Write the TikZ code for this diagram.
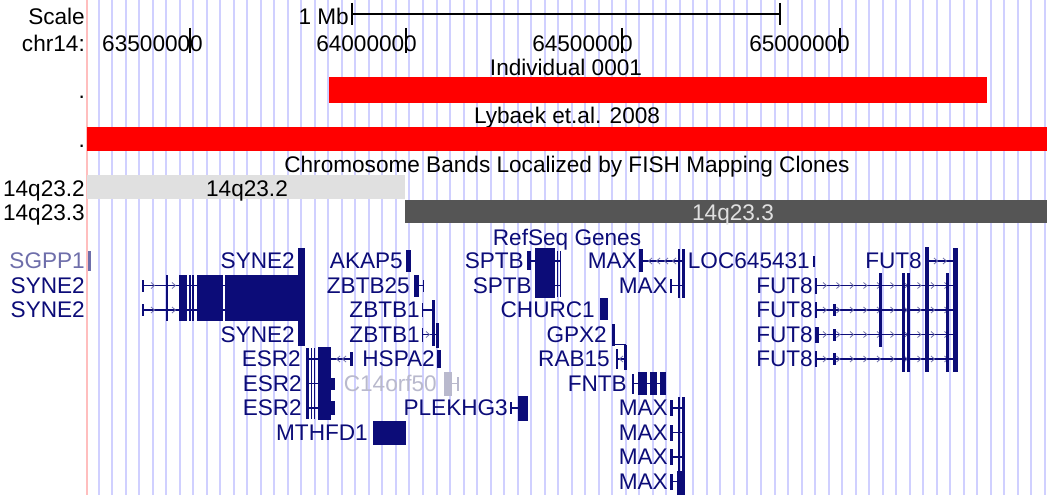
\documentclass[tikz,border=0pt]{standalone}
\usepackage{fontspec}
\setmainfont{Liberation Sans}
\definecolor{gnavy}{RGB}{12,12,120}
\definecolor{gridc}{RGB}{208,208,255}
\definecolor{sgpp}{RGB}{110,110,170}
\definecolor{cgray}{RGB}{185,185,205}
\definecolor{bandA}{RGB}{224,224,224}
\definecolor{bandB}{RGB}{85,85,85}
\definecolor{pinkl}{RGB}{255,190,190}
\definecolor{chevc}{RGB}{110,110,170}
\newcommand\yA{261}
\newcommand\yB{285.5}
\newcommand\yC{310}
\newcommand\yD{334.5}
\newcommand\yE{359}
\newcommand\yF{383.5}
\newcommand\yG{408}
\newcommand\yH{432.5}
\newcommand\yI{457}
\newcommand\yJ{481.5}
\newcommand{\chR}[2]{\draw[chev] (#1-2,#2-3) -- (#1+1.5,#2) -- (#1-2,#2+3);}
\newcommand{\chL}[2]{\draw[chev] (#1+2,#2-3) -- (#1-1.5,#2) -- (#1+2,#2+3);}
\begin{document}
\begin{tikzpicture}[x=1pt,y=-1pt,
  lab/.style={inner sep=0pt,font=\fontsize{22.6pt}{26pt}\selectfont},
  glab/.style={lab,text=gnavy,anchor=base east},
  intr/.style={draw=gnavy,line width=1.3pt},
  chev/.style={draw=chevc,line width=0.8pt},
  ex/.style={fill=gnavy}]
\useasboundingbox (0,0) rectangle (1050,495);
\fill[white] (0,0) rectangle (1050,495);
% guide lines
\foreach \k in {0,...,70}
  \draw[gridc,line width=2pt] ({98.5+13.52*\k},0) -- ({98.5+13.52*\k},495);
\draw[pinkl,line width=1.5pt] (87,0) -- (87,495);
% ruler
\node[lab,anchor=base east] (scl) at (85,25) {Scale};
\node[lab,anchor=base east] (mb) at (349,25) {1 Mb};
\coordinate (rl) at (352,14);
\coordinate (rr) at (780,14);
\draw[line width=1.2pt] (rl) -- (rr);
\draw[line width=1.2pt] (352,3) -- (352,25);
\draw[line width=1.2pt] (780,3) -- (780,25);
\node[lab,anchor=base east] (chr) at (85,52) {chr14:};
\node[lab,anchor=base east] (p1) at (203,52) {63500000};
\node[lab,anchor=base east] (p2) at (417,52) {64000000};
\node[lab,anchor=base east] (p3) at (633,52) {64500000};
\node[lab,anchor=base east] (p4) at (850,52) {65000000};
\foreach \t in {190,406,622,840}
  \draw[line width=1.5pt] (\t,28) -- (\t,53);
% custom tracks
\node[lab,anchor=base] (ind) at (566,75) {Individual 0001};
\fill[red] (329,77) rectangle (987,103);
\node[lab,anchor=base east] (d1) at (85,99) {.};
\node[lab,anchor=base] (lyb) at (567,124) {Lybaek et.al. 2008};
\fill[red] (87,127) rectangle (1047,151);
\node[lab,anchor=base east] (d2) at (85,147) {.};
% bands
\node[lab,anchor=base] (fish) at (567,172) {Chromosome Bands Localized by FISH Mapping Clones};
\fill[bandA] (87,175) rectangle (405,199);
\fill[bandB] (405,200) rectangle (1047,223);
\node[lab,anchor=base] (b1) at (247,196) {14q23.2};
\node[lab,anchor=base,text=bandA] (b2) at (733,220) {14q23.3};
\node[lab,anchor=base east] (l1) at (85,196) {14q23.2};
\node[lab,anchor=base east] (l2) at (85,220) {14q23.3};
% RefSeq
\node[lab,anchor=base,text=gnavy] (rs) at (567,245) {RefSeq Genes};
% left labels
\node[glab,text=sgpp] (sg) at (85,\yA+7.5) {SGPP1};
\fill[sgpp] (88,251) rectangle (90.5,271);
\node[glab] (sy2) at (85,\yB+7.5) {SYNE2};
\node[glab] (sy3) at (85,\yC+7.5) {SYNE2};
% SYNE2
\node[glab] (sy1) at (295,\yA+7.5) {SYNE2};
\node[glab] (sy4) at (295,\yD+7.5) {SYNE2};
\fill[gnavy] (298,248) rectangle (305,346);
\draw[intr] (142,\yB) -- (298,\yB);
\draw[intr] (142,\yC) -- (298,\yC);
\fill[gnavy] (141.5,\yB-6) rectangle (144,\yB+6);
\fill[gnavy] (141.5,\yC-6) rectangle (144,\yC+6);
\chR{153}{\yB}
\chR{174}{\yB}
\chR{153}{\yC}
\chR{174}{\yC}
\fill[gnavy] (166,\yB-11) rectangle (168,\yC+11);
\fill[gnavy] (179,\yB-11) rectangle (187,\yC+11);
\fill[gnavy] (189,\yB-11) rectangle (190.5,\yC+11);
\fill[gnavy] (192,\yB-11) rectangle (194,\yC+11);
\fill[gnavy] (197,\yB-11) rectangle (223,\yC+11);
\fill[gnavy] (224.5,\yB-11) rectangle (305,\yC+11);
% ESR2
\node[glab] (es1) at (301,\yE+7.5) {ESR2};
\node[glab] (es2) at (302,\yF+7.5) {ESR2};
\node[glab] (es3) at (302,\yG+7.5) {ESR2};
\fill[gnavy] (306,\yE-11) rectangle (309,\yG+11);
\draw[intr] (309,\yE) -- (318,\yE);
\draw[intr] (309,\yF) -- (318,\yF);
\draw[intr] (309,\yG) -- (318,\yG);
\fill[gnavy] (311,\yE-11) rectangle (312.2,\yG+11);
\fill[gnavy] (314,\yE-11) rectangle (315.2,\yG+11);
\fill[gnavy] (318,\yE-12) rectangle (331,\yG+12);
\fill[gnavy] (331,\yF-6) rectangle (335,\yF+6);
\fill[gnavy] (331,\yG-7) rectangle (335,\yG+7);
\draw[intr] (331,\yE) -- (351,\yE);
\chL{338}{\yE}
\chL{344}{\yE}
\fill[gnavy] (350,\yE-7) rectangle (353,\yE+7);
% MTHFD1
\node[glab] (mt) at (368,\yH+7.5) {MTHFD1};
\fill[gnavy] (373,\yH-12) rectangle (406,\yH+12);
% AKAP5
\node[glab] (ak) at (403,\yA+7.5) {AKAP5};
\fill[gnavy] (406,\yA-11) rectangle (410.5,\yA+11);
% ZBTB25
\node[glab] (zb25) at (410,\yB+7.5) {ZBTB25};
\fill[gnavy] (414,\yB-11) rectangle (419,\yB+11);
\draw[intr] (419,\yB) -- (424,\yB);
\fill[gnavy] (422.5,\yB-6) rectangle (424,\yB+6);
% ZBTB1
\node[glab] (zb1) at (420,\yC+7.5) {ZBTB1};
\node[glab] (zb2) at (420,\yD+7.5) {ZBTB1};
\fill[gnavy] (421.5,\yC-7) rectangle (423,\yC+7);
\draw[intr] (423,\yC) -- (433,\yC);
\fill[gnavy] (432,\yC-10) rectangle (434.5,\yD+11);
\fill[gnavy] (421.5,\yD-7) rectangle (423,\yD+7);
\draw[intr] (423,\yD) -- (437,\yD);
\chR{428}{\yD}
\fill[gnavy] (436,\yD-12) rectangle (438.5,\yD+13);
% HSPA2
\node[glab] (hs) at (435,\yE+7.5) {HSPA2};
\fill[gnavy] (437,\yE-9) rectangle (440.5,\yE+9);
% C14orf50
\node[glab,text=cgray] (c14) at (437,\yF+7.5) {C14orf50};
\fill[cgray] (444,\yF-12) rectangle (452,\yF+12);
\draw[cgray,line width=1.3pt] (452,\yF) -- (458,\yF);
\fill[cgray] (457,\yF-7) rectangle (459,\yF+7);
% PLEKHG3
\node[glab] (pl) at (508,\yG+7.5) {PLEKHG3};
\fill[gnavy] (509.5,\yG-6) rectangle (512,\yG+6);
\draw[intr] (512,\yG) -- (518,\yG);
\fill[gnavy] (518,\yG-12) rectangle (528,\yG+13);
% SPTB
\node[glab] (sp1) at (524,\yA+7.5) {SPTB};
\node[glab] (sp2) at (532,\yB+7.5) {SPTB};
\fill[gnavy] (526.5,\yA-10) rectangle (531,\yA+9);
\draw[intr] (531,\yA) -- (561,\yA);
\draw[intr] (555,\yB) -- (561,\yB);
\fill[gnavy] (535,\yA-13) rectangle (555,\yB+12);
\fill[gnavy] (556.5,\yA-10) rectangle (558,\yB+11);
\fill[gnavy] (559.5,\yA-10) rectangle (561,\yB+11);
% CHURC1
\node[glab] (ch) at (595,\yC+7.5) {CHURC1};
\fill[gnavy] (600,\yC-12) rectangle (608,\yC+10);
% GPX2
\node[glab] (gp) at (607,\yD+7.5) {GPX2};
\fill[gnavy] (612,\yD-11) rectangle (615,\yD+11);
\draw[intr] (615,\yD+10) -- (626,\yD+10);
% RAB15
\node[glab] (rb) at (610,\yE+7.5) {RAB15};
\fill[gnavy] (616,\yE-10) rectangle (618,\yE+10);
\draw[intr] (618,\yE) -- (625,\yE);
\chL{621}{\yE}
\fill[gnavy] (624,\yE-14) rectangle (626.5,\yE+11);
% FNTB
\node[glab] (fn) at (627,\yF+7.5) {FNTB};
\fill[gnavy] (632,\yF-10) rectangle (634,\yF+10);
\draw[intr] (634,\yF) -- (666,\yF);
\fill[gnavy] (638,\yF-12) rectangle (647,\yF+11);
\fill[gnavy] (650,\yF-12) rectangle (657,\yF+11);
\fill[gnavy] (660,\yF-12) rectangle (666,\yF+11);
% MAX
\node[glab] (mx1) at (637,\yA+7.5) {MAX};
\fill[gnavy] (639,\yA-12) rectangle (643,\yA+11);
\draw[intr] (643,\yA) -- (684,\yA);
\chL{650}{\yA}
\chL{658}{\yA}
\chL{666}{\yA}
\chL{674}{\yA}
\node[glab] (mx2) at (668,\yB+7.5) {MAX};
\fill[gnavy] (670,\yB-7) rectangle (672,\yB+7);
\draw[intr] (672,\yB) -- (684,\yB);
\fill[gnavy] (677.5,\yA-12) rectangle (679.5,\yB+12);
\fill[gnavy] (682,\yA-12) rectangle (684.5,\yB+12);
\node[glab] (mx3) at (668,\yG+7.5) {MAX};
\node[glab] (mx4) at (668,\yH+7.5) {MAX};
\node[glab] (mx5) at (668,\yI+7.5) {MAX};
\node[glab] (mx6) at (668,\yJ+7.5) {MAX};
\fill[gnavy] (670,\yG-8) rectangle (673,\yG+8);
\fill[gnavy] (670,\yH-8) rectangle (673,\yH+8);
\fill[gnavy] (670,\yI-8) rectangle (673,\yI+8);
\fill[gnavy] (670,\yJ-8) rectangle (673,\yJ+8);
\draw[intr] (673,\yG) -- (684,\yG);
\draw[intr] (673,\yH) -- (684,\yH);
\draw[intr] (673,\yI) -- (684,\yI);
\draw[intr] (673,\yJ) -- (684,\yJ);
\fill[gnavy] (677.5,\yG-11) rectangle (679.5,495);
\fill[gnavy] (682,\yG-11) rectangle (684.5,495);
\fill[gnavy] (677,\yJ-11) rectangle (682,495);
% LOC645431
\node[glab] (loc) at (810,\yA+7.5) {LOC645431};
\fill[gnavy] (813,\yA-5) rectangle (815,\yA+6);
% FUT8
\node[glab] (f1) at (922,\yA+7.5) {FUT8};
\draw[intr] (928,\yA) -- (955,\yA);
\chR{936}{\yA}
\chR{945}{\yA}
\node[glab] (f2) at (813,\yB+7.5) {FUT8};
\node[glab] (f3) at (813,\yC+7.5) {FUT8};
\node[glab] (f4) at (813,\yD+7.5) {FUT8};
\node[glab] (f5) at (813,\yE+7.5) {FUT8};
\fill[gnavy] (815,\yB-8) rectangle (817,\yB+8);
\fill[gnavy] (815,\yC-8) rectangle (817,\yC+8);
\fill[gnavy] (815,\yD-8) rectangle (819,\yD+8);
\fill[gnavy] (815,\yE-8) rectangle (817,\yE+8);
\draw[intr] (817,\yB) -- (955,\yB);
\draw[intr] (817,\yC) -- (955,\yC);
\draw[intr] (817,\yD) -- (955,\yD);
\draw[intr] (817,\yE) -- (955,\yE);
\foreach \cx in {825,838.5,852,865.5,879,892.5,906,919.5,933,946.5}{
  \chR{\cx}{\yB}
  \chR{\cx}{\yC}
  \chR{\cx}{\yD}
  \chR{\cx}{\yE}
}
\fill[gnavy] (833,\yC-6) rectangle (836,\yC+6);
\fill[gnavy] (833,\yD-6) rectangle (836,\yD+6);
\fill[gnavy] (833,\yE-6) rectangle (836,\yE+6);
\fill[gnavy] (879,\yB-13) rectangle (882,\yD+12);
\fill[gnavy] (902,\yB-13) rectangle (904.5,\yE+13);
\fill[gnavy] (907,\yB-13) rectangle (909.5,\yE+13);
\fill[gnavy] (946,\yB-13) rectangle (949,\yE+13);
\fill[gnavy] (924.5,\yA-14) rectangle (928.5,\yE+13);
\fill[gnavy] (953,\yA-13) rectangle (958,\yE+13);
\end{tikzpicture}
\end{document}
